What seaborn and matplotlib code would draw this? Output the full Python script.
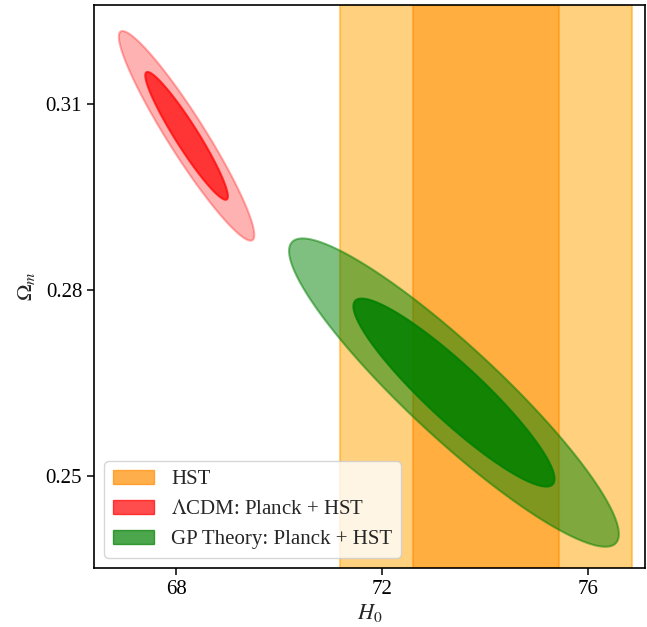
import matplotlib
matplotlib.use("Agg")
import matplotlib.pyplot as plt
import matplotlib.patches as mpatches
import numpy as np
import seaborn as sns

# HST local measurement of H0 (mean, 1 sigma)
hst_h0 = 74.03
hst_sigma = 1.42

# 2D Gaussian posteriors: [H0, Omega_m]
lcdm_mean = [68.2, 0.3049]
lcdm_sigma = [0.53, 0.0068]
lcdm_rho = -0.945

gp_mean = [73.4, 0.2635]
gp_sigma = [1.29, 0.0100]
gp_rho = -0.918

levels = [0.9545, 0.6827]

x_ticks = [68, 72, 76]
y_ticks = [0.25, 0.28, 0.31]
legend_labels = ["HST", r"$\Lambda$CDM: Planck + HST", "GP Theory: Planck + HST"]


def contour_path(mean, sigma, rho, level):
    cov = np.array([
        [sigma[0] ** 2, rho * sigma[0] * sigma[1]],
        [rho * sigma[0] * sigma[1], sigma[1] ** 2],
    ])
    k = np.sqrt(-2 * np.log(1 - level))
    t = np.linspace(0, 2 * np.pi, 300)
    circle = np.vstack([np.cos(t), np.sin(t)])
    pts = np.linalg.cholesky(cov) @ circle * k
    return mean[0] + pts[0], mean[1] + pts[1]


sns.set_style("ticks")
plt.rcParams["font.family"] = ["Liberation Serif", "DejaVu Serif"]
plt.rcParams["mathtext.fontset"] = "stix"
plt.rcParams["axes.edgecolor"] = "black"
plt.rcParams["xtick.color"] = "black"
plt.rcParams["ytick.color"] = "black"
plt.rcParams["axes.linewidth"] = 1.2

fig = plt.figure(figsize=(6.47, 6.27), dpi=100)
ax = fig.add_axes([0.1453, 0.094, 0.852, 0.898])

# HST bands
ax.axvspan(hst_h0 - 2 * hst_sigma, hst_h0 + 2 * hst_sigma, color="orange", alpha=0.5, lw=1.5)
ax.axvspan(hst_h0 - hst_sigma, hst_h0 + hst_sigma, color="darkorange", alpha=0.5, lw=1.5)

# LCDM contours
for level, a in zip(levels, [0.3, 0.7]):
    xs, ys = contour_path(lcdm_mean, lcdm_sigma, lcdm_rho, level)
    ax.fill(xs, ys, color="red", alpha=a, lw=1.5)

# GP contours
for level, a in zip(levels, [0.5, 0.85]):
    xs, ys = contour_path(gp_mean, gp_sigma, gp_rho, level)
    ax.fill(xs, ys, color="green", alpha=a, lw=1.5)

ax.set_xlim(66.4, 77.12)
ax.set_ylim(0.2352, 0.326)
ax.set_xticks(x_ticks)
ax.set_yticks(y_ticks)
ax.set_xticklabels([str(v) for v in x_ticks])
ax.set_yticklabels([f"{v:.2f}" for v in y_ticks])
ax.tick_params(labelsize=15, length=5, width=1.1)
ax.set_xlabel(r"$H_0$", fontsize=16, labelpad=2)
ax.set_ylabel(r"$\Omega_m$", fontsize=16, labelpad=6)

handles = [
    mpatches.Patch(color="darkorange", alpha=0.7),
    mpatches.Patch(color="red", alpha=0.7),
    mpatches.Patch(color="green", alpha=0.7),
]
ax.legend(handles, legend_labels, loc="lower left", fontsize=15,
          frameon=True, framealpha=0.8, edgecolor="0.8", fancybox=True)

fig.savefig("out.png", dpi=100)
